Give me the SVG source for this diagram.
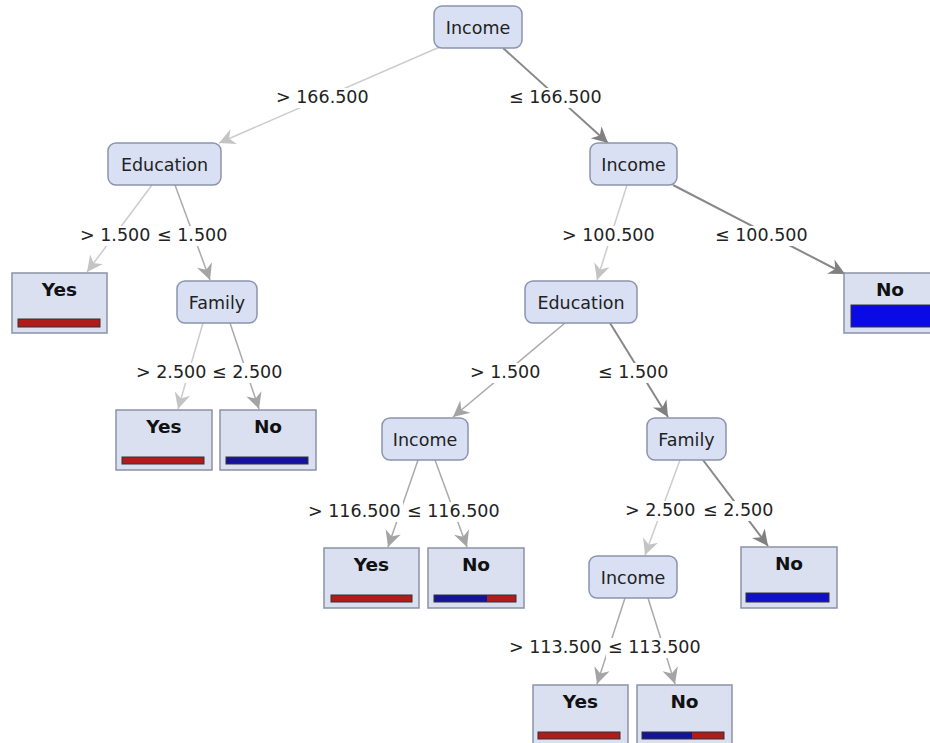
<svg xmlns="http://www.w3.org/2000/svg" width="930" height="743" viewBox="0 0 930 743">
<style>
.node rect{fill:#d9e0f4;stroke:#8c94ad;stroke-width:1.5}
.node text{font-family:"DejaVu Sans",sans-serif;font-size:17.5px;fill:#222;text-anchor:middle}
.leaf rect.box{fill:#dae0f0;stroke:#8a92a8;stroke-width:1.5}
.leaf text{font-family:"DejaVu Sans",sans-serif;font-weight:bold;font-size:18.5px;fill:#111;text-anchor:middle}
.bar{stroke:#333;stroke-width:1}
.red{fill:#b01c1c}
.blue{fill:#14149a}
.lbl text{font-family:"DejaVu Sans",sans-serif;font-size:17.5px;fill:#222}
.lbl rect{fill:#fff}
.e{fill:none}
.l{stroke:#cccccc;stroke-width:1.5;marker-end:url(#ml)}
.m{stroke:#aaaaaa;stroke-width:1.5;marker-end:url(#mm)}
.d{stroke:#888888;stroke-width:2;marker-end:url(#md)}
</style>
<defs>
<marker id="ml" markerUnits="userSpaceOnUse" markerWidth="20" markerHeight="20" refX="18" refY="9" orient="auto" viewBox="0 0 20 18"><path d="M18,9 L2,1 L7,9 L2,17 Z" fill="#c4c4c4"/></marker>
<marker id="mm" markerUnits="userSpaceOnUse" markerWidth="20" markerHeight="20" refX="18" refY="9" orient="auto" viewBox="0 0 20 18"><path d="M18,9 L2,1 L7,9 L2,17 Z" fill="#a4a4a4"/></marker>
<marker id="md" markerUnits="userSpaceOnUse" markerWidth="20" markerHeight="20" refX="18" refY="9" orient="auto" viewBox="0 0 20 18"><path d="M18,9 L2,1 L7,9 L2,17 Z" fill="#808080"/></marker>
</defs>
<rect width="930" height="743" fill="#fff"/>
<g id="connectors">
<path class="e l" d="M442,46 L219,143"/>
<path class="e d" d="M503,48 L608,143"/>
<path class="e l" d="M152,185 L87,272"/>
<path class="e m" d="M175,185 L210,280"/>
<path class="e l" d="M203,323 L178,409"/>
<path class="e m" d="M230,323 L259,409"/>
<path class="e l" d="M627,185 L597,280"/>
<path class="e d" d="M673,185 L845,274"/>
<path class="e m" d="M565,323 L453,417"/>
<path class="e d" d="M610,323 L668,417"/>
<path class="e m" d="M418,460 L388,547"/>
<path class="e m" d="M435,460 L467,547"/>
<path class="e l" d="M680,460 L645,555"/>
<path class="e d" d="M703,460 L768,546"/>
<path class="e m" d="M625,598 L597,684"/>
<path class="e m" d="M648,598 L675,684"/>
</g>
<g id="labels" class="lbl">
<rect x="274" y="88" width="97" height="20"/><text x="276" y="103">&gt; 166.500</text>
<rect x="507" y="88" width="97" height="20"/><text x="509" y="103">≤ 166.500</text>
<rect x="78" y="226" width="74" height="20"/><text x="80" y="241">&gt; 1.500</text>
<rect x="155" y="226" width="74" height="20"/><text x="157" y="241">≤ 1.500</text>
<rect x="560" y="226" width="97" height="20"/><text x="562" y="241">&gt; 100.500</text>
<rect x="713" y="226" width="97" height="20"/><text x="715" y="241">≤ 100.500</text>
<rect x="134" y="363" width="74" height="20"/><text x="136" y="378">&gt; 2.500</text>
<rect x="210" y="363" width="72" height="20"/><text x="212" y="378">≤ 2.500</text>
<rect x="468" y="363" width="74" height="20"/><text x="470" y="378">&gt; 1.500</text>
<rect x="596" y="363" width="74" height="20"/><text x="598" y="378">≤ 1.500</text>
<rect x="306" y="502" width="97" height="20"/><text x="308" y="517">&gt; 116.500</text>
<rect x="405" y="502" width="96" height="20"/><text x="407" y="517">≤ 116.500</text>
<rect x="623" y="501" width="74" height="20"/><text x="625" y="516">&gt; 2.500</text>
<rect x="701" y="501" width="74" height="20"/><text x="703" y="516">≤ 2.500</text>
<rect x="507" y="638" width="97" height="20"/><text x="509" y="653">&gt; 113.500</text>
<rect x="606" y="638" width="98" height="20"/><text x="608" y="653">≤ 113.500</text>
</g>
<g id="n-income-root" class="node"><rect x="434" y="6" width="88" height="42" rx="8"/><text x="478" y="33.5">Income</text></g>
<g id="n-education-l" class="node"><rect x="108" y="143" width="113" height="42" rx="8"/><text x="164.5" y="170.5">Education</text></g>
<g id="n-family-l" class="node"><rect x="177" y="281" width="80" height="42" rx="8"/><text x="217" y="308.5">Family</text></g>
<g id="n-income-r" class="node"><rect x="590" y="143" width="87" height="42" rx="8"/><text x="633.5" y="170.5">Income</text></g>
<g id="n-education-r" class="node"><rect x="525" y="281" width="112" height="42" rx="8"/><text x="581" y="308.5">Education</text></g>
<g id="n-income-m" class="node"><rect x="382" y="418" width="86" height="42" rx="8"/><text x="425" y="445.5">Income</text></g>
<g id="n-family-r" class="node"><rect x="647" y="418" width="79" height="42" rx="8"/><text x="686.5" y="445.5">Family</text></g>
<g id="n-income-low" class="node"><rect x="589" y="556" width="88" height="42" rx="8"/><text x="633" y="583.5">Income</text></g>
<g id="leaf-yes-1" class="leaf"><rect class="box" x="12" y="273" width="95" height="60"/><text x="59.5" y="296">Yes</text><rect class="bar red" x="18" y="319" width="82" height="8"/></g>
<g id="leaf-yes-2" class="leaf"><rect class="box" x="116" y="410" width="96" height="60"/><text x="164" y="433">Yes</text><rect class="bar red" x="122" y="457" width="82" height="7"/></g>
<g id="leaf-no-2" class="leaf"><rect class="box" x="220" y="410" width="96" height="60"/><text x="268" y="433">No</text><rect class="bar blue" x="226" y="457" width="82" height="7"/></g>
<g id="leaf-no-r1" class="leaf"><rect class="box" x="844" y="273" width="92" height="60"/><text x="890" y="296">No</text><rect class="bar" x="851" y="305" width="85" height="22" fill="#0a0ae6"/></g>
<g id="leaf-yes-m" class="leaf"><rect class="box" x="324" y="548" width="95" height="60"/><text x="371.5" y="571">Yes</text><rect class="bar red" x="331" y="595" width="81" height="7"/></g>
<g id="leaf-no-m" class="leaf"><rect class="box" x="428" y="548" width="96" height="60"/><text x="476" y="571">No</text><rect class="blue" x="434" y="595" width="53" height="7"/><rect class="red" x="487" y="595" width="29" height="7"/><rect class="bar" x="434" y="595" width="82" height="7" fill="none"/></g>
<g id="leaf-no-r2" class="leaf"><rect class="box" x="741" y="547" width="96" height="61"/><text x="789" y="570">No</text><rect class="bar" x="746" y="593" width="83" height="9" fill="#1010c8"/></g>
<g id="leaf-yes-b" class="leaf"><rect class="box" x="533" y="685" width="95" height="60"/><text x="580.5" y="708">Yes</text><rect class="bar red" x="538" y="732" width="82" height="7"/></g>
<g id="leaf-no-b" class="leaf"><rect class="box" x="637" y="685" width="95" height="60"/><text x="684.5" y="708">No</text><rect class="blue" x="642" y="732" width="50" height="7"/><rect class="red" x="692" y="732" width="32" height="7"/><rect class="bar" x="642" y="732" width="82" height="7" fill="none"/></g>
</svg>
